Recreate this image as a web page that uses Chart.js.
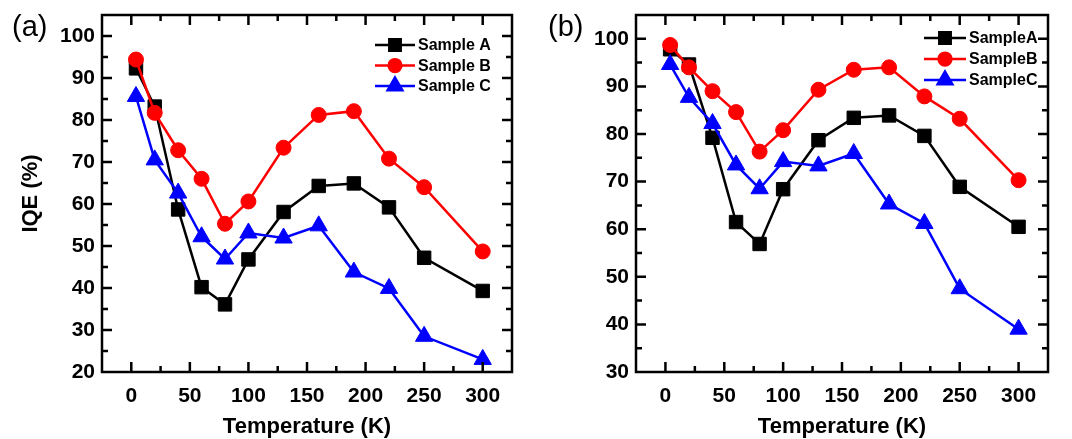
<!DOCTYPE html>
<html>
<head>
<meta charset="utf-8">
<script src="https://cdn.jsdelivr.net/npm/chart.js@4/dist/chart.umd.min.js"></script>
<style>
  html, body { margin: 0; padding: 0; background: #fff; }
  .row { display: flex; width: 1072px; height: 439px; }
  canvas { display: block; }
</style>
</head>
<body>
<div class="row">
  <canvas id="chartA" width="536" height="439"></canvas>
  <canvas id="chartB" width="536" height="439"></canvas>
</div>
<script>
// temperatures (K) shared by both panels
const temps = [4, 20, 40, 60, 80, 100, 130, 160, 190, 220, 250, 300];

// panel (a)
const aSampleA = [92.3, 83.2, 58.7, 40.2, 36.1, 46.8, 58.1, 64.3, 64.9, 59.2, 47.2, 39.3];
const aSampleB = [94.4, 81.7, 72.8, 66.0, 55.3, 60.6, 73.4, 81.2, 82.1, 70.8, 64.0, 48.7];
const aSampleC = [85.6, 70.5, 62.6, 52.2, 46.9, 53.1, 51.9, 54.8, 43.8, 39.9, 28.5, 23.0];

// panel (b)
const bSampleA = [97.8, 94.6, 79.2, 61.5, 56.9, 68.4, 78.7, 83.4, 83.9, 79.6, 68.9, 60.5];
const bSampleB = [98.7, 94.0, 89.0, 84.6, 76.3, 80.8, 89.3, 93.5, 94.0, 87.9, 83.2, 70.3];
const bSampleC = [94.6, 87.7, 82.2, 73.5, 68.5, 74.2, 73.3, 75.9, 65.3, 61.2, 47.5, 39.0];

const xTicks = [0, 50, 100, 150, 200, 250, 300];

const FONT = "'Liberation Sans', Arial, sans-serif";

const styles = [
  { color: "#000000", pointStyle: "rect", radius: 9.5, order: 3 },
  { color: "#ff0000", pointStyle: "circle", radius: 7.5, order: 2 },
  { color: "#0000ff", pointStyle: "triangle", radius: 10, order: 1 },
];

function makeDataset(label, values, st) {
  return {
    label: label,
    data: temps.map((t, i) => ({ x: t, y: values[i] })),
    borderColor: st.color,
    backgroundColor: st.color,
    pointBackgroundColor: st.color,
    pointBorderColor: st.color,
    pointBorderWidth: 1,
    pointStyle: st.pointStyle,
    pointRadius: st.radius,
    borderWidth: 2.5,
    order: st.order,
    tension: 0,
  };
}

// frame with inward ticks on all four sides, panel letter and legend
const framePlugin = {
  id: "originFrame",
  afterDatasetsDraw(chart, args, opts) {
    const ctx = chart.ctx;
    const area = chart.chartArea;
    const xs = chart.scales.x;
    const ys = chart.scales.y;
    const major = 10, minor = 6;

    ctx.save();
    ctx.strokeStyle = "#000";
    ctx.lineWidth = 2.5;
    ctx.lineCap = "butt";
    ctx.beginPath();
    for (let v = 0; v <= 300; v += 25) {
      const px = xs.getPixelForValue(v);
      const len = v % 50 === 0 ? major : minor;
      ctx.moveTo(px, area.bottom); ctx.lineTo(px, area.bottom - len);
      ctx.moveTo(px, area.top); ctx.lineTo(px, area.top + len);
    }
    for (let v = opts.yMin + 5; v < opts.yMax; v += 5) {
      const py = ys.getPixelForValue(v);
      const len = v % 10 === 0 ? major : minor;
      ctx.moveTo(area.left, py); ctx.lineTo(area.left + len, py);
      ctx.moveTo(area.right, py); ctx.lineTo(area.right - len, py);
    }
    ctx.stroke();
    ctx.strokeRect(area.left, area.top, area.right - area.left, area.bottom - area.top);

    // panel letter
    ctx.fillStyle = "#000";
    ctx.font = "29px " + FONT;
    ctx.textBaseline = "alphabetic";
    ctx.textAlign = "left";
    ctx.fillText(opts.letter, 12, 36);

    // legend
    const lg = opts.legend;
    ctx.font = "bold 16px " + FONT;
    ctx.textBaseline = "middle";
    chart.data.datasets.forEach((ds, i) => {
      const y = area.top + lg.top + i * lg.step;
      const x0 = area.right + lg.lineStart;
      const x1 = area.right + lg.lineEnd;
      ctx.strokeStyle = ds.borderColor;
      ctx.lineWidth = 2.5;
      ctx.beginPath();
      ctx.moveTo(x0, y); ctx.lineTo(x1, y);
      ctx.stroke();
      Chart.helpers.drawPoint(ctx, {
        pointStyle: ds.pointStyle,
        radius: ds.pointRadius * 0.85,
        borderWidth: 1,
        rotation: 0,
      }, (x0 + x1) / 2, y);
      ctx.fillStyle = ds.borderColor;
      ctx.fill();
      ctx.fillStyle = "#000";
      ctx.fillText(ds.label, x1 + 3, y + 1);
    });
    ctx.restore();
  },
};

function buildChart(id, labels, series, yMin, yMax, yWidth, showTitle, letter, legend) {
  return new Chart(document.getElementById(id), {
    type: "line",
    data: {
      datasets: series.map((vals, i) => makeDataset(labels[i], vals, styles[i])),
    },
    options: {
      responsive: false,
      animation: false,
      layout: { padding: { top: 15, right: 24, left: 0, bottom: 0 } },
      scales: {
        x: {
          type: "linear",
          min: -25,
          max: 325,
          afterBuildTicks: (scale) => { scale.ticks = xTicks.map((v) => ({ value: v })); },
          afterFit: (scale) => {
            scale.height = 67;
            scale.paddingLeft = 0;
            scale.paddingRight = 0;
          },
          grid: { display: false, drawTicks: false },
          border: { display: false },
          ticks: {
            color: "#000",
            padding: 12,
            maxRotation: 0,
            font: { family: FONT, size: 21, weight: "bold" },
          },
          title: {
            display: true,
            text: "Temperature (K)",
            color: "#000",
            padding: { top: 0, bottom: -1 },
            font: { family: FONT, size: 22, weight: "bold" },
          },
        },
        y: {
          type: "linear",
          min: yMin,
          max: yMax,
          ticks: {
            stepSize: 10,
            includeBounds: false,
            color: "#000",
            padding: 7,
            font: { family: FONT, size: 21, weight: "bold" },
          },
          afterFit: (scale) => {
            scale.width = yWidth;
            scale.paddingTop = 0;
            scale.paddingBottom = 0;
          },
          grid: { display: false, drawTicks: false },
          border: { display: false },
          title: {
            display: showTitle,
            text: "IQE (%)",
            color: "#000",
            padding: { top: 18, bottom: 0 },
            font: { family: FONT, size: 22, weight: "bold" },
          },
        },
      },
      plugins: {
        legend: { display: false },
        tooltip: { enabled: false },
        originFrame: { yMin: yMin, yMax: yMax, letter: letter, legend: legend },
      },
    },
    plugins: [framePlugin],
  });
}

buildChart("chartA", ["Sample A", "Sample B", "Sample C"],
  [aSampleA, aSampleB, aSampleC], 20, 105, 102, true, "(a)",
  { top: 30, step: 20.5, lineStart: -137, lineEnd: -97 });

buildChart("chartB", ["SampleA", "SampleB", "SampleC"],
  [bSampleA, bSampleB, bSampleC], 30, 105, 100, false, "(b)",
  { top: 23, step: 21, lineStart: -124, lineEnd: -82 });
</script>
</body>
</html>
